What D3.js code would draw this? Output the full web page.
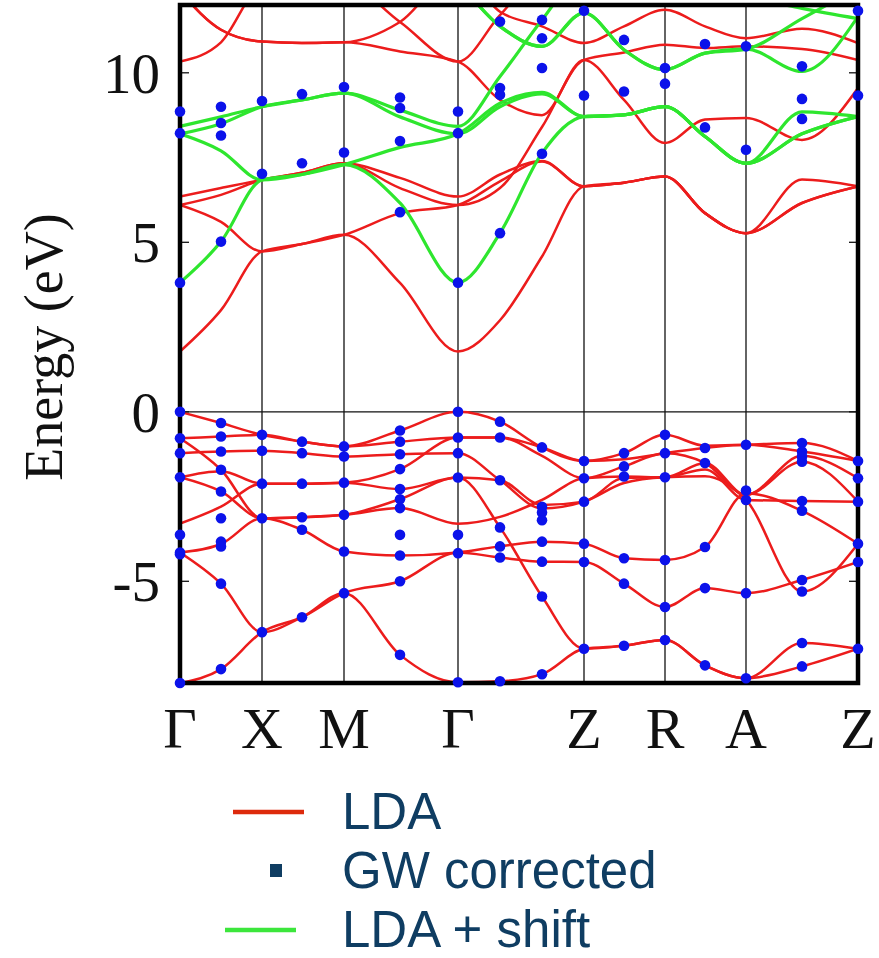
<!DOCTYPE html>
<html>
<head>
<meta charset="utf-8">
<script src="https://cdn.jsdelivr.net/npm/d3@7"></script>
<style>
  body { margin: 0; background: #fff; }
  svg { display: block; }
</style>
</head>
<body>
<svg id="chart" width="879" height="958"></svg>
<script>
// High-symmetry points along the k-path (path length units)
const kLabels = ["Γ", "X", "M", "Γ", "Z", "R", "A", "Z"];
const kTicks = [0, 0.82, 1.64, 2.78, 4.04, 4.85, 5.66, 6.78];

// k positions at which band energies are tabulated
const kSamples = [0, 0.41, 0.82, 1.22, 1.64, 2.20, 2.78, 3.20, 3.62, 4.04, 4.44, 4.85, 5.25, 5.66, 6.22, 6.78];

const yTicks = [-5, 0, 5, 10];

// LDA valence bands (eV), one row per band, one value per k sample
const ldaValence = [
  [0, -0.33, -0.68, -0.88, -1.02, -0.55, 0, -0.29, -1.05, -1.45, -1.22, -0.68, -1.0, -0.97, -0.92, -1.45],
  [-0.78, -0.73, -0.68, -0.88, -1.02, -0.88, -0.76, -0.76, -1.05, -1.45, -1.4, -1.22, -1.07, -0.97, -1.17, -1.45],
  [-0.78, -1.71, -3.14, -3.11, -3.04, -2.58, -1.94, -3.41, -5.45, -6.99, -6.9, -6.73, -7.48, -7.86, -6.82, -6.99],
  [-1.22, -1.17, -1.15, -1.22, -1.32, -1.25, -1.22, -2.02, -2.85, -2.65, -2.1, -1.93, -1.9, -2.6, -5.3, -3.89],
  [-1.93, -1.75, -2.12, -2.12, -2.09, -1.69, -0.76, -0.76, -1.3, -1.96, -1.61, -1.22, -1.51, -2.45, -1.3, -1.96],
  [-1.93, -2.35, -3.14, -3.11, -3.04, -2.84, -3.3, -3.1, -2.6, -1.96, -1.91, -1.93, -1.51, -2.45, -1.47, -2.65],
  [-3.3, -2.8, -2.12, -2.12, -2.09, -2.28, -1.94, -2.02, -2.75, -2.65, -1.95, -1.93, -1.7, -2.6, -2.63, -2.65],
  [-4.15, -3.9, -3.14, -3.48, -4.12, -4.24, -4.15, -3.97, -3.83, -3.89, -4.32, -4.37, -3.99, -2.4, -2.92, -3.89],
  [-4.15, -5.07, -6.5, -6.06, -5.35, -5.0, -4.15, -4.3, -4.42, -4.43, -5.07, -5.76, -5.2, -5.35, -4.96, -4.43],
  [-8.0, -7.59, -6.5, -6.06, -5.35, -7.17, -7.98, -7.95, -7.74, -6.99, -6.9, -6.73, -7.48, -7.86, -7.51, -6.99]
];

// LDA conduction bands (eV)
const ldaConduction = [
  [1.78, 3.0, 4.73, 4.95, 5.22, 3.8, 1.78, 2.7, 4.58, 6.65, 6.76, 6.94, 5.86, 5.27, 6.16, 6.65],
  [6.1, 5.6, 4.73, 4.95, 5.22, 5.86, 6.1, 6.8, 7.38, 6.65, 6.76, 6.94, 5.86, 5.27, 6.85, 6.65],
  [6.1, 6.4, 6.84, 7.05, 7.33, 6.6, 6.1, 6.6, 8.4, 10.38, 10.6, 10.83, 10.73, 10.78, 10.7, 10.38],
  [6.35, 6.6, 6.84, 7.05, 7.33, 6.9, 6.35, 7.0, 7.4, 6.65, 6.76, 6.94, 5.86, 5.27, 6.16, 6.65],
  [10.33, 10.9, 12.6, 12.8, 12.7, 11.5, 10.33, 11.7, 12.9, 13.0, 13.0, 13.0, 13.0, 13.0, 13.0, 13.0],
  [12.4, 11.27, 10.92, 10.88, 10.9, 10.63, 10.33, 9.2, 8.75, 10.38, 9.2, 7.93, 8.62, 8.67, 8.02, 9.55],
  [12.4, 11.27, 10.92, 10.88, 10.9, 11.5, 13.0, 11.8, 11.37, 10.88, 11.37, 11.86, 11.37, 11.02, 11.3, 10.88]
];

// LDA conduction bands rigidly shifted (eV)
const ldaShifted = [
  [3.81, 5.02, 6.84, 7.0, 7.29, 6.16, 3.81, 5.27, 7.63, 8.71, 8.76, 9.0, 8.12, 7.33, 8.2, 8.71],
  [8.2, 7.7, 6.84, 7.0, 7.29, 7.8, 8.2, 9.1, 9.42, 8.71, 8.76, 9.0, 8.12, 7.33, 8.85, 8.71],
  [8.42, 8.7, 9.0, 9.2, 9.4, 8.9, 8.42, 9.89, 11.56, 13.0, 13.2, 13.2, 12.8, 12.3, 11.9, 11.6],
  [8.2, 8.5, 9.0, 9.2, 9.4, 8.7, 8.2, 9.0, 9.38, 8.71, 8.76, 9.0, 8.12, 7.33, 8.2, 8.71],
  [14.0, 14.0, 14.0, 14.0, 14.0, 13.5, 12.6, 11.37, 10.78, 11.77, 10.68, 10.09, 10.58, 10.7, 10.04, 11.66],
  [14.0, 14.0, 14.0, 14.0, 14.0, 13.5, 12.6, 11.37, 10.78, 11.77, 10.68, 10.09, 10.58, 10.7, 11.6, 12.5]
];

// GW quasiparticle energies (eV), listed per k sample
const gwEnergies = [
  [0, -0.78, -1.22, -1.93, -3.63, -4.15, -4.2, -8.0, 3.81, 8.22, 8.86],
  [-0.33, -0.73, -1.17, -1.71, -2.35, -3.14, -3.83, -3.97, -5.07, -7.59, 5.02, 8.15, 8.52, 9.0],
  [-0.68, -1.15, -2.12, -3.14, -6.5, 7.02, 9.17],
  [-0.88, -1.22, -2.12, -3.11, -3.48, -6.06, 7.33, 9.37],
  [-1.02, -1.32, -2.09, -3.04, -4.12, -5.35, 7.65, 9.58],
  [-0.55, -0.88, -1.25, -1.69, -2.28, -2.58, -2.84, -3.63, -4.24, -5.0, -7.17, 5.89, 7.99, 8.96, 9.27],
  [0, -0.76, -1.22, -1.94, -3.63, -4.17, -7.98, 3.81, 8.22, 8.86],
  [-0.29, -0.76, -2.02, -3.41, -3.97, -4.3, -7.95, 5.27, 9.35, 9.55, 11.51],
  [-1.05, -2.8, -2.97, -3.2, -3.83, -4.42, -5.45, -7.74, 7.61, 10.14, 11.02, 11.56],
  [-1.45, -1.96, -2.65, -3.89, -4.43, -6.99, 9.33, 11.83],
  [-1.22, -1.61, -1.91, -4.32, -5.07, -6.9, 9.45, 10.97],
  [-0.68, -1.22, -1.93, -4.37, -5.76, -6.73, 9.68, 10.14],
  [-1.07, -1.51, -3.99, -5.2, -7.48, 8.39, 10.85],
  [-0.97, -2.32, -2.6, -5.35, -7.86, 7.73, 10.78],
  [-0.92, -1.17, -1.32, -1.47, -2.63, -2.92, -4.96, -5.3, -6.82, -7.51, 8.64, 9.23, 10.19],
  [-1.45, -1.96, -2.65, -3.89, -4.43, -6.99, 9.33, 11.83]
];

const legendItems = [
  { label: "LDA", kind: "line", color: "#dd2a0c" },
  { label: "GW corrected", kind: "square", color: "#0f3d62" },
  { label: "LDA + shift", kind: "line", color: "#3ce63c" }
];

const svg = d3.select("#chart");
const plot = { left: 180, right: 858, top: 5, bottom: 683 };

const x = d3.scaleLinear().domain([kTicks[0], kTicks[kTicks.length - 1]]).range([plot.left, plot.right]);
const y = d3.scaleLinear().domain([-8, 12]).range([plot.bottom, plot.top]);

svg.append("defs").append("clipPath").attr("id", "plot-clip")
  .append("rect")
  .attr("x", plot.left).attr("y", plot.top)
  .attr("width", plot.right - plot.left).attr("height", plot.bottom - plot.top);

// vertical guides at high-symmetry points and the Fermi level
const guides = svg.append("g");
guides.selectAll("line.kline")
  .data(kTicks.slice(1, -1))
  .join("line")
  .attr("x1", d => x(d)).attr("x2", d => x(d))
  .attr("y1", plot.top).attr("y2", plot.bottom)
  .attr("stroke", "#111").attr("stroke-width", 1.3);
guides.append("line")
  .attr("x1", plot.left).attr("x2", plot.right)
  .attr("y1", y(0)).attr("y2", y(0))
  .attr("stroke", "#111").attr("stroke-width", 1.3);

const bandLine = d3.line()
  .x((d, i) => x(kSamples[i]))
  .y(d => y(d))
  .curve(d3.curveMonotoneX);

const bands = svg.append("g").attr("clip-path", "url(#plot-clip)");
bands.selectAll("path.lda")
  .data(ldaValence.concat(ldaConduction))
  .join("path")
  .attr("class", "lda")
  .attr("d", bandLine)
  .attr("fill", "none")
  .attr("stroke", "#ec1c1c")
  .attr("stroke-width", 2.5);
bands.selectAll("path.shift")
  .data(ldaShifted)
  .join("path")
  .attr("class", "shift")
  .attr("d", bandLine)
  .attr("fill", "none")
  .attr("stroke", "#2ee62e")
  .attr("stroke-width", 3.2);

// tick marks on both vertical sides
const tickG = svg.append("g");
yTicks.forEach(t => {
  tickG.append("line").attr("x1", plot.left).attr("x2", plot.left + 9)
    .attr("y1", y(t)).attr("y2", y(t)).attr("stroke", "#111").attr("stroke-width", 1.3);
  tickG.append("line").attr("x1", plot.right - 9).attr("x2", plot.right)
    .attr("y1", y(t)).attr("y2", y(t)).attr("stroke", "#111").attr("stroke-width", 1.3);
});

// frame
svg.append("rect")
  .attr("x", plot.left).attr("y", plot.top)
  .attr("width", plot.right - plot.left).attr("height", plot.bottom - plot.top)
  .attr("fill", "none").attr("stroke", "#000").attr("stroke-width", 4.5);

// GW points
const gwFlat = [];
gwEnergies.forEach((list, i) => list.forEach(e => gwFlat.push([kSamples[i], e])));
svg.append("g").selectAll("circle")
  .data(gwFlat)
  .join("circle")
  .attr("cx", d => x(d[0]))
  .attr("cy", d => y(d[1]))
  .attr("r", 5.3)
  .attr("fill", "#0b12ea");

// axis labels
const serif = "'Liberation Serif', 'DejaVu Serif', serif";
svg.append("g").selectAll("text")
  .data(yTicks)
  .join("text")
  .attr("x", 160)
  .attr("y", d => y(d))
  .attr("dy", "0.35em")
  .attr("text-anchor", "end")
  .attr("font-family", serif)
  .attr("font-size", 57)
  .attr("fill", "#111")
  .text(d => d);

svg.append("g").selectAll("text")
  .data(kTicks)
  .join("text")
  .attr("x", d => x(d))
  .attr("y", 748)
  .attr("text-anchor", "middle")
  .attr("font-family", serif)
  .attr("font-size", 58)
  .attr("fill", "#111")
  .text((d, i) => kLabels[i]);

svg.append("text")
  .attr("transform", "translate(62,347) rotate(-90)")
  .attr("text-anchor", "middle")
  .attr("font-family", serif)
  .attr("font-size", 54)
  .attr("fill", "#111")
  .text("Energy (eV)");

// legend
const legend = svg.append("g");
const rowY = [812, 871, 930];
legendItems.forEach((item, i) => {
  const cy = rowY[i];
  if (item.kind === "line") {
    const x0 = i === 0 ? 233 : 225;
    legend.append("line")
      .attr("x1", x0).attr("x2", x0 + 71)
      .attr("y1", cy).attr("y2", cy)
      .attr("stroke", item.color).attr("stroke-width", 4.5);
  } else {
    legend.append("rect")
      .attr("x", 270).attr("y", cy - 7)
      .attr("width", 12).attr("height", 13)
      .attr("fill", item.color);
  }
  legend.append("text")
    .attr("x", 342)
    .attr("y", cy + 17)
    .attr("font-family", "'Liberation Sans', Arial, sans-serif")
    .attr("font-size", 51)
    .attr("fill", "#0f3d62")
    .text(item.label);
});
</script>
</body>
</html>
